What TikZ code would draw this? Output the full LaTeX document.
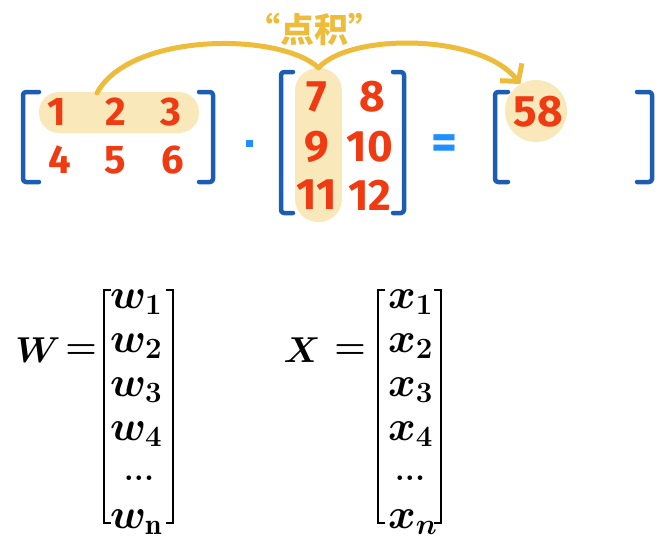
\RequirePackage{fix-cm}
\documentclass[tikz,border=0pt]{standalone}
\usepackage{fontspec}
\usepackage{amsmath}
\usepackage{tikz}
\usetikzlibrary{arrows.meta}
\newfontfamily\digitfont{Fira Sans}
\newfontfamily\cjkfont{Noto Sans CJK SC}
\definecolor{numred}{RGB}{240,58,18}
\definecolor{brakblue}{RGB}{28,92,178}
\definecolor{eqblue}{RGB}{30,144,255}
\definecolor{pillfill}{RGB}{248,232,186}
\definecolor{gold}{RGB}{236,188,58}
\def\brak[#1](#2:#3:#4:#5){\draw[#1] (#2+#5, #3) -- (#2, #3) -- (#2, #4) -- (#2+#5, #4);}
\tikzset{
  num/.style={text=numred, inner sep=0pt, font=\digitfont\bfseries\fontsize{40}{40}\selectfont},
  bignum/.style={num, font=\digitfont\bfseries\fontsize{44}{44}\selectfont},
  bluebrak/.style={line width=4.5pt, color=brakblue, line cap=round, line join=round, rounded corners=3pt},
  mbrak/.style={line width=1.6pt, color=black},
  goldline/.style={line width=5pt, color=gold, line cap=round},
  ent/.style={anchor=base west, inner sep=0pt, font=\fontsize{42}{42}\selectfont\boldmath},
  lhs/.style={inner sep=0pt, font=\fontsize{36}{36}\selectfont\boldmath},
  vdots/.style={anchor=base, inner sep=0pt, font=\bfseries\fontsize{32}{32}\selectfont},
}

\begin{document}
\begin{tikzpicture}[x=1pt, y=-1pt]
		%%%%% START %%%%%
		\useasboundingbox (0,0) rectangle (667,544);
		
		\node[fill=pillfill, rounded corners=20pt, minimum width=160pt, minimum height=41pt] (rowpill) at (119,112.5) {};
		\node[fill=pillfill, rounded corners=23pt, minimum width=47pt, minimum height=154pt] (colpill) at (318.5,145) {};
		\node[circle, fill=pillfill, minimum size=62pt, inner sep=0pt] (res) at (536,111) {};
		
		\brak[bluebrak](23:92:182:16)
		\brak[bluebrak](213:92:182:-14)
		\node[num] (a1) at (57,112) {1};
		\node[num] (a2) at (116,112) {2};
		\node[num] (a3) at (171,112) {3};
		\node[num] (a4) at (60,160) {4};
		\node[num] (a5) at (115,160) {5};
		\node[num] (a6) at (173,160) {6};
		
		\node[fill=eqblue, minimum size=7pt, inner sep=0pt] (dot) at (249.5,143) {};
		
		\brak[bluebrak](281:72:213:12)
		\brak[bluebrak](404:72:213:-11)
		\node[bignum] (b1) at (317,97) {7};
		\node[bignum] (b2) at (372,97) {8};
		\node[bignum] (b3) at (317,147) {9};
		\node[bignum] (b4) at (370,147) {10};
		\node[bignum] (b5) at (317,195) {11};
		\node[bignum] (b6) at (370,195) {12};
		
		\node[text=eqblue, inner sep=0pt, font=\digitfont\bfseries\fontsize{50}{50}\selectfont] (eq) at (444,147) {=};
		
		\brak[bluebrak](495:92:182:13)
		\brak[bluebrak](652:92:182:-15)
		\node[bignum] (c1) at (538,112) {58};
		
		\coordinate (from) at (97,93);
		\draw[goldline] (from) .. controls (130,32) and (280,32) .. (colpill.north);
		\draw[goldline, -{Straight Barb[length=12pt, width=28pt]}] (colpill.north) .. controls (350,33) and (480,33) .. (res.120);
		\node[text=gold, font=\cjkfont\bfseries\fontsize{34}{34}\selectfont] (label) at (314,29) {“点积”};
		
		\node[lhs] (W) at (38,350) {$W$};
		\node[lhs] (weq) at (81,352) {$=$};
		\brak[mbrak](104:290:523:7)
		\brak[mbrak](173:290:523:-7)
		\node[ent] (w1) at (110,308) {$w_1$};
		\node[ent] (w2) at (110,352) {$w_2$};
		\node[ent] (w3) at (110,396) {$w_3$};
		\node[ent] (w4) at (110,440) {$w_4$};
		\node[vdots] (w5) at (139,480) {...};
		\node[ent] (wn) at (110,528) {$w_{\mathrm{n}}$};
		
		\node[lhs] (X) at (302,350) {$X$};
		\node[lhs] (xeq) at (350,352) {$=$};
		\brak[mbrak](378:290:523:7)
		\brak[mbrak](441:290:523:-7)
		\node[ent] (x1) at (388,308) {$x_1$};
		\node[ent] (x2) at (388,352) {$x_2$};
		\node[ent] (x3) at (388,396) {$x_3$};
		\node[ent] (x4) at (388,440) {$x_4$};
		\node[vdots] (x5) at (410,480) {...};
		\node[ent] (xn) at (388,528) {$x_n$};
		
		%%%%% END %%%%%
	\end{tikzpicture}
\end{document}
